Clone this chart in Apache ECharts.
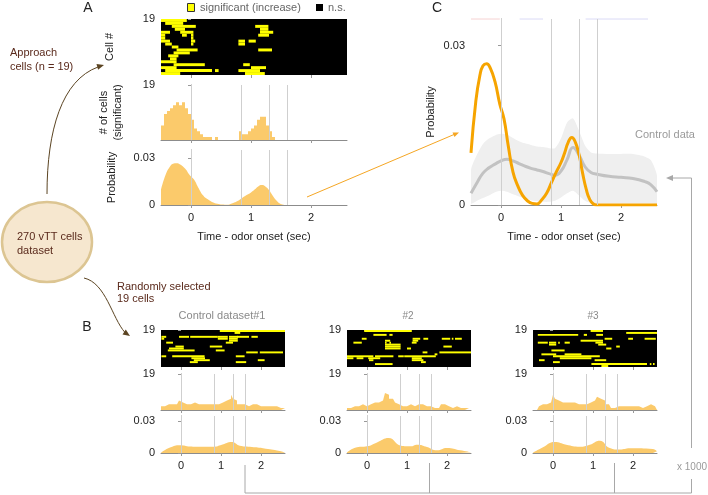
<!DOCTYPE html>
<html><head><meta charset="utf-8">
<script src="https://cdn.jsdelivr.net/npm/echarts@6/dist/echarts.min.js"></script>
<style>html,body{margin:0;padding:0;background:#fff}#c{width:708px;height:495px}</style>
</head><body><div id="c"></div>
<script>
const FONT = 'Liberation Sans, Arial, sans-serif';
const T_MIN = -0.5, T_MAX = 2.6, BIN = 0.05;
const nCells = 19;
const probMax = 0.035;
const eventTimes = [0, 0.84, 1.3, 1.6];
const timeTicks = [0, 1, 2];
const probTicks = [0, 0.03];
const cellTicks = [19];

// ---------- Panel A : approach cells ----------
// [row from top, start (s), end (s)]
const approachSegments = [
 [0,-0.5,-0.07],
 [1,-0.43,-0.13],
 [2,-0.32,0.08],[2,1.07,1.29],
 [3,-0.27,-0.1],[3,1.15,1.29],
 [4,-0.5,-0.35],[4,-0.18,0.04],[4,1.15,1.37],
 [5,-0.5,-0.43],[5,-0.15,-0.07],[5,0.0,0.04],[5,1.12,1.3],
 [6,-0.5,-0.43],[6,0.0,0.04],
 [7,-0.5,-0.35],[7,0.0,0.07],[7,0.79,0.9],[7,0.96,1.08],
 [8,-0.43,-0.32],[8,0.0,0.04],[8,0.79,0.9],
 [9,-0.32,-0.21],
 [10,-0.24,0.11],[10,1.12,1.35],
 [11,-0.29,-0.02],
 [12,-0.38,-0.21],
 [13,-0.35,-0.24],
 [14,-0.5,-0.24],
 [15,-0.29,0.23],[15,0.87,0.98],
 [16,-0.5,-0.24],[16,1.0,1.25],
 [17,-0.43,0.35],[17,0.4,0.46],[17,0.79,1.15],
 [18,-0.5,-0.18],[18,0.9,1.23]
];
// counts per 0.05 s bin from -0.5 s
const approachCounts = [
 5,9,10,11,12,13,12,13,11,9,
 7,4,3,2,1,1,1,0,1,0,
 0,0,0,0,0,0,3,2,2,3,
 4,5,7,8,8,5,3,1,0,0,
 0,0,0,0,0,0,0,0,0,0,
 0,0,0,0,0,0,0,0,0,0,0,0
];
const approachProbT = [-0.5,-0.42,-0.35,-0.3,-0.24,-0.18,-0.1,-0.02,0.05,0.12,0.2,0.28,0.36,0.44,0.52,0.6,0.68,0.76,0.84,0.92,1.0,1.06,1.12,1.18,1.24,1.3,1.36,1.42,1.48,1.54,1.6,2.6];
const approachProbV = [0.0098,0.0195,0.0245,0.0262,0.0266,0.0258,0.0232,0.019,0.0162,0.0112,0.0062,0.0036,0.0018,0.0008,0.0003,0.0002,0.001,0.0022,0.0042,0.0062,0.008,0.0098,0.0118,0.0127,0.0118,0.0095,0.006,0.003,0.001,0.0002,0,0];

// ---------- Panel C : control data ----------
const controlT    = [-0.5,-0.4,-0.3,-0.2,-0.1,0,0.1,0.2,0.3,0.4,0.5,0.6,0.7,0.8,0.9,1.0,1.1,1.2,1.3,1.4,1.5,1.6,1.8,2.0,2.2,2.4,2.5,2.6];
const controlMean = [0.0022,0.0042,0.006,0.007,0.0077,0.0083,0.0086,0.0083,0.0078,0.0073,0.0069,0.0066,0.0063,0.0059,0.0056,0.0064,0.0085,0.0108,0.0094,0.0072,0.0061,0.0058,0.0054,0.0052,0.005,0.0044,0.0038,0.0025];
const controlHigh = [0.0066,0.0095,0.0115,0.0125,0.0131,0.0134,0.0132,0.0126,0.012,0.0116,0.0113,0.011,0.0109,0.0107,0.0107,0.0125,0.0155,0.0163,0.014,0.0112,0.0099,0.0097,0.0096,0.0096,0.0096,0.0091,0.0084,0.0055];
const controlLow  = [0.0003,0.0008,0.0013,0.0018,0.0024,0.0027,0.0025,0.002,0.0016,0.0012,0.0009,0.0007,0.0006,0.0006,0.0008,0.0014,0.0022,0.0027,0.0018,0.0008,0.0004,0.0003,0.0003,0.0003,0.0003,0.0003,0.0003,0.0003];
const sigRed  = [[-0.5,-0.02]];
const sigBlue = [[0.31,0.7],[1.41,2.45]];

// ---------- Panel B : random control datasets ----------
const controlTitles = ['Control dataset#1', '#2', '#3'];
const ctrlSegments1 = [
 [0,0.97,2.6],[1,1.34,1.48],
 [3,-0.49,-0.37],[3,-0.05,0.2],[3,0.23,0.92],[3,0.92,1.17],[3,1.2,1.42],[3,1.4,1.7],[3,1.76,1.92],
 [4,-0.49,-0.42],[4,0.92,1.17],[4,1.2,1.42],[5,1.2,1.42],
 [6,-0.37,-0.2],[6,1.12,1.3],
 [8,-0.14,0.07],[8,0.72,1.03],
 [9,-0.3,0.07],
 [10,-0.33,0.34],[10,0.87,1.09],
 [11,1.63,1.92],[11,1.97,2.55],
 [13,-0.49,-0.37],[13,-0.22,0.59],[13,1.37,1.59],
 [14,0.26,0.6],[15,0.32,0.72],[15,1.92,2.09],
 [16,0.22,0.42],[16,1.37,1.63]
];
const ctrlSegments2 = [
 [0,-0.07,1.12],
 [2,0.16,0.49],[2,0.56,0.64],
 [4,-0.13,-0.01],[4,1.14,1.33],[4,1.41,1.53],[4,1.87,2.08],[4,2.12,2.16],[4,2.2,2.37],
 [5,0.45,0.58],[5,1.14,1.28],
 [6,-0.34,-0.13],[6,0.45,0.49],[6,0.56,0.6],[6,1.12,1.24],
 [7,0.45,0.84],[8,0.45,0.84],[9,0.45,0.84],
 [8,1.91,2.12],[9,1.0,1.1],
 [11,1.39,1.51],[11,1.81,2.6],
 [12,1.69,1.76],
 [13,-0.5,0.16],[13,0.2,0.66],[13,0.78,0.92],[13,0.93,1.72],
 [14,-0.5,-0.34],[14,-0.26,-0.09],[14,0.03,0.33],[14,1.12,1.37],
 [15,0.05,0.16],[15,1.12,1.41],
 [16,1.35,1.47],
 [17,0.2,0.64]
];
const ctrlSegments3 = [
 [0,0.94,1.25],
 [1,1.83,2.6],
 [2,-0.38,0.63],[2,0.77,0.85],[2,1.08,1.25],
 [4,1.29,1.48],[4,1.88,2.0],[4,2.29,2.57],
 [5,0.69,1.25],[6,1.06,1.25],
 [6,-0.38,-0.13],[6,-0.1,0.08],[7,-0.1,0.08],[6,0.13,0.17],[6,0.29,0.42],
 [7,1.13,1.33],
 [8,1.58,1.67],
 [9,1.33,1.46],
 [10,-0.04,0.29],
 [12,-0.29,0.08],[12,0.29,0.71],
 [13,0.0,1.17],[14,0.17,0.96],
 [15,-0.35,-0.21],[15,1.04,1.33],
 [16,0.0,0.17],
 [17,0.96,2.35],[17,2.42,2.46],[17,2.5,2.54],
 [18,1.21,1.38]
];
const ctrlCounts1 = [
 2,2,3,3,4,3,4,3,4,5,
 4,4,3,4,3,3,4,3,3,3,
 3,4,3,3,3,2,3,4,3,4,
 4,4,5,5,6,8,6,5,3,3,
 2,3,3,2,3,3,2,3,2,2,
 2,2,1,2,2,2,1,2,2,1,2,1
];
const ctrlCounts2 = [
 1,1,2,2,2,2,2,3,2,2,
 3,3,3,4,4,4,5,5,6,9,
 8,6,6,5,4,3,3,2,3,2,
 2,3,3,2,2,3,4,3,3,2,
 1,2,1,1,1,1,2,3,3,3,
 2,2,1,2,2,1,1,1,1,1,1,1
];
const ctrlCounts3 = [
 0,0,1,2,3,3,3,3,4,4,
 8,6,5,4,4,4,4,4,4,3,
 4,3,3,2,3,2,3,4,4,5,
 5,6,7,6,6,5,3,3,2,1,
 1,1,2,3,2,2,2,1,2,2,
 2,2,2,2,1,2,2,2,3,2,2,1
];
const ctrlProbT1 = [-0.5,-0.275,-0.025,0.225,0.475,0.81,1.02,1.27,1.47,1.72,2.05,2.47,2.6];
const ctrlProbV1 = [0.0003,0.0052,0.0074,0.0061,0.0058,0.0058,0.0077,0.0103,0.0068,0.0058,0.0045,0.0019,0.0003];
const ctrlProbT2 = [-0.5,-0.25,0,0.25,0.54,0.85,1.08,1.26,1.5,1.75,2.0,2.33,2.6];
const ctrlProbV2 = [0.0006,0.0054,0.0063,0.01,0.0142,0.0069,0.0063,0.0079,0.0057,0.0025,0.0047,0.0025,0.0006];
const ctrlProbT3 = [-0.5,-0.25,0.04,0.33,0.67,0.92,1.17,1.42,1.67,1.92,2.5,2.6];
const ctrlProbV3 = [0.0003,0.0054,0.0104,0.0079,0.006,0.0079,0.0117,0.0047,0.0032,0.0044,0.0038,0.0016];

// ---------- helpers ----------
function stepData(counts){
  const d = counts.map((c,i)=>[+(T_MIN+i*BIN).toFixed(3), c]);
  d.push([T_MAX, counts[counts.length-1]]);
  return d;
}
function zipXY(t,v){ return t.map((x,i)=>[x, v[i]]); }

const FILL = '#fbca6b';
const grids=[], xAxes=[], yAxes=[], series=[];
const eventMark = {
  silent:true, symbol:['none','none'], label:{show:false}, animation:false,
  lineStyle:{color:'#cfcfcf', width:1, type:'solid'},
  emphasis:{disabled:true},
  data: eventTimes.map(t=>({xAxis:t}))
};
function addGrid(l,t,w,h,heat){
  grids.push({left:l, top:t, width:w, height:h, show:!!heat, backgroundColor: heat?'#000':'transparent', borderWidth:0});
  return grids.length-1;
}
function addX(gi, line, labels, name){
  xAxes.push({type:'value', gridIndex:gi, min:T_MIN, max:T_MAX,
    axisLine:{show:line, onZero:false, lineStyle:{color:'#8c8c8c', width:1}},
    axisTick:{show:true, customValues:timeTicks, length:3, lineStyle:{color:'#999'}},
    axisLabel:{show:labels, customValues:timeTicks, margin:7, color:'#222', fontSize:11, fontFamily:FONT},
    splitLine:{show:false},
    name: name||'', nameLocation:'middle', nameGap:26,
    nameTextStyle:{color:'#222', fontSize:11, fontFamily:FONT}});
}
function addY(gi, max, ticks, line, name, gap){
  yAxes.push({type:'value', gridIndex:gi, min:0, max:max,
    axisLine:{show:line, lineStyle:{color:'#8c8c8c', width:1}},
    axisTick:{show:true, customValues:ticks, length:3, lineStyle:{color:'#999'}},
    axisLabel:{customValues:ticks, margin:6, color:'#222', fontSize:11, fontFamily:FONT},
    splitLine:{show:false},
    name: name||'', nameLocation:'middle', nameGap:gap||30,
    nameTextStyle:{color:'#222', fontSize:11, fontFamily:FONT, lineHeight:14}});
}
function heatSeries(gi, segs){
  return {type:'custom', xAxisIndex:gi, yAxisIndex:gi, data:segs, encode:{x:[1,2], y:0}, silent:true,
    renderItem:function(params, api){
      const r=api.value(0), a=api.value(1), b=api.value(2);
      const p0=api.coord([a, nCells-r]); const p1=api.coord([b, nCells-1-r]);
      return {type:'rect', shape:{x:p0[0], y:p0[1], width:p1[0]-p0[0], height:p1[1]-p0[1]}, style:{fill:'#ffff00'}};
    }};
}
function histSeries(gi, counts){
  return {type:'line', xAxisIndex:gi, yAxisIndex:gi, data:stepData(counts), step:'end', symbol:'none', silent:true,
    lineStyle:{width:0}, areaStyle:{color:FILL, opacity:1}, markLine:eventMark};
}
function probSeries(gi, t, v){
  return {type:'line', xAxisIndex:gi, yAxisIndex:gi, data:zipXY(t,v), smooth:0.5, symbol:'none', silent:true,
    lineStyle:{width:0}, areaStyle:{color:FILL, opacity:1}, markLine:eventMark};
}

// Panel A
let g = addGrid(161,19,186,56,true); addX(g,false,false); addY(g,nCells,cellTicks,false,'Cell #',44);
series.push(heatSeries(g, approachSegments));
g = addGrid(161,85,186,55,false); addX(g,true,false); addY(g,nCells,cellTicks,true,'# of cells\n(significant)',36);
series.push(histSeries(g, approachCounts));
g = addGrid(161,150,186,55,false); addX(g,true,true,'Time - odor onset (sec)'); addY(g,probMax,probTicks,true,'Probability',42);
series.push(probSeries(g, approachProbT, approachProbV));

// Panel C
g = addGrid(471,19,186,186,false); addX(g,true,true,'Time - odor onset (sec)'); addY(g,probMax,probTicks,true,'Probability',33);
series.push({type:'custom', xAxisIndex:g, yAxisIndex:g, silent:true, clip:true,
  data: controlT.map((t,i)=>[t, controlLow[i], controlHigh[i]]), encode:{x:0, y:[1,2]},
  renderItem:function(params, api){
    if (params.dataIndex !== 0) return null;
    const up = controlT.map((t,i)=>api.coord([t, controlHigh[i]]));
    const lo = controlT.map((t,i)=>api.coord([t, controlLow[i]])).reverse();
    return {type:'polygon', shape:{points: up.concat(lo), smooth:0.25}, style:{fill:'#efefef'}};
  }});
series.push({type:'line', xAxisIndex:g, yAxisIndex:g, data:zipXY(controlT,controlMean), smooth:0.5, symbol:'none', silent:true, lineStyle:{color:'#c2c2c2', width:3}, markLine:eventMark});
series.push({type:'line', xAxisIndex:g, yAxisIndex:g, data:zipXY(approachProbT,approachProbV), smooth:0.5, symbol:'none', silent:true, lineStyle:{color:'#f6a400', width:3}});
function sigSeries(gi, segs, color){
  return {type:'custom', xAxisIndex:gi, yAxisIndex:gi, data:segs, encode:{x:[0,1]}, silent:true, clip:false,
    renderItem:function(params, api){
      const p0=api.coord([api.value(0), probMax]); const p1=api.coord([api.value(1), probMax]);
      return {type:'line', shape:{x1:p0[0], y1:p0[1], x2:p1[0], y2:p1[1]}, style:{stroke:color, lineWidth:1}};
    }};
}
series.push(sigSeries(g, sigRed, '#f6d2d2'));
series.push(sigSeries(g, sigBlue, '#dadaf6'));

// Panel B
const bLefts = [161,347,533];
const bSegs = [ctrlSegments1, ctrlSegments2, ctrlSegments3];
const bCounts = [ctrlCounts1, ctrlCounts2, ctrlCounts3];
const bProbT = [ctrlProbT1, ctrlProbT2, ctrlProbT3];
const bProbV = [ctrlProbV1, ctrlProbV2, ctrlProbV3];
for (let k=0;k<3;k++){
  const L = bLefts[k];
  g = addGrid(L,330,124,37,true); addX(g,false,false); addY(g,nCells,cellTicks,false);
  series.push(heatSeries(g, bSegs[k]));
  g = addGrid(L,374,124,36,false); addX(g,true,false); addY(g,nCells,cellTicks,true);
  series.push(histSeries(g, bCounts[k]));
  g = addGrid(L,416,124,37,false); addX(g,true,true); addY(g,probMax,probTicks,true);
  series.push(probSeries(g, bProbT[k], bProbV[k]));
}

// ---------- annotations ----------
const BROWN = '#5a2a1c', ARROW = '#5b4422', GRAY = '#a8a8a8';
function txt(x,y,s,opt){ opt=opt||{}; return {type:'text', z:100, x:x, y:y, silent:true, style:{text:s, fill:opt.fill||'#222', font:(opt.size||11)+'px '+FONT, align:opt.align||'left', verticalAlign:'middle'}}; }
function ln(x1,y1,x2,y2,c,w){ return {type:'line', z:100, silent:true, shape:{x1,y1,x2,y2}, style:{stroke:c, lineWidth:w||1}}; }
const graphics = [
  {type:'rect', z:100, silent:true, shape:{x:187.5,y:3.5,width:7,height:8}, style:{fill:'#ffff00', stroke:'#333', lineWidth:1}},
  txt(200,8,'significant (increase)',{fill:'#666'}),
  {type:'rect', z:100, silent:true, shape:{x:316,y:4,width:7,height:7}, style:{fill:'#000'}},
  txt(328,8,'n.s.',{fill:'#666'}),
  txt(88,8,'A',{size:14, align:'center'}),
  txt(87,327,'B',{size:14, align:'center'}),
  txt(437,8,'C',{size:14, align:'center'}),
  txt(10,53,'Approach',{fill:BROWN}),
  txt(10,67,'cells (n = 19)',{fill:BROWN}),
  {type:'ellipse', z:100, silent:true, shape:{cx:47, cy:242, rx:45, ry:40}, style:{fill:'#f6e7cf', stroke:'#dcc592', lineWidth:2.5}},
  txt(17,237,'270 vTT cells',{fill:BROWN}),
  txt(17,251,'dataset',{fill:BROWN}),
  txt(117,287,'Randomly selected',{fill:BROWN}),
  txt(117,299,'19 cells',{fill:BROWN}),
  {type:'bezierCurve', z:100, silent:true, shape:{x1:47,y1:194,cpx1:47,cpy1:130,cpx2:62,cpy2:80,x2:98,y2:67}, style:{stroke:ARROW, lineWidth:1, fill:'none'}},
  {type:'polygon', z:100, silent:true, shape:{points:[[104,65],[98.1,69.8],[96.5,64]]}, style:{fill:ARROW}},
  {type:'bezierCurve', z:100, silent:true, shape:{x1:84,y1:278,cpx1:106,cpy1:283,cpx2:112,cpy2:318,x2:125,y2:332.5}, style:{stroke:ARROW, lineWidth:1, fill:'none'}},
  {type:'polygon', z:100, silent:true, shape:{points:[[130,336],[122.5,334.6],[125.8,329.6]]}, style:{fill:ARROW}},
  ln(307,197,454,134.5,'#f5a623',1),
  {type:'polygon', z:100, silent:true, shape:{points:[[459,132.5],[454.5,137.1],[452.5,132.5]]}, style:{fill:'#f5a623'}},
  txt(635,135,'Control data',{fill:'#9a9a9a'}),
  txt(222,316,controlTitles[0],{fill:'#8a8a8a', align:'center'}),
  txt(408,316,controlTitles[1],{fill:'#8a8a8a', align:'center', size:10}),
  txt(593,316,controlTitles[2],{fill:'#8a8a8a', align:'center', size:10}),
  ln(245,465,245,493,GRAY), ln(429.5,463,429.5,493,GRAY), ln(614.5,463,614.5,493,GRAY),
  ln(245,493,691.5,493,GRAY), ln(691.5,493,691.5,479,GRAY), ln(691.5,448,691.5,178,GRAY),
  ln(691.5,178,672,178,GRAY),
  {type:'polygon', z:100, silent:true, shape:{points:[[666,178],[673,175],[673,181]]}, style:{fill:GRAY}},
  txt(692,467,'x 1000',{fill:'#9a9a9a', align:'center', size:10})
];

const chart = echarts.init(document.getElementById('c'), null, {renderer:'canvas'});
chart.setOption({
  animation:false,
  backgroundColor:'#fff',
  textStyle:{fontFamily:FONT},
  grid:grids, xAxis:xAxes, yAxis:yAxes, series:series,
  graphic:graphics
});
</script></body></html>
